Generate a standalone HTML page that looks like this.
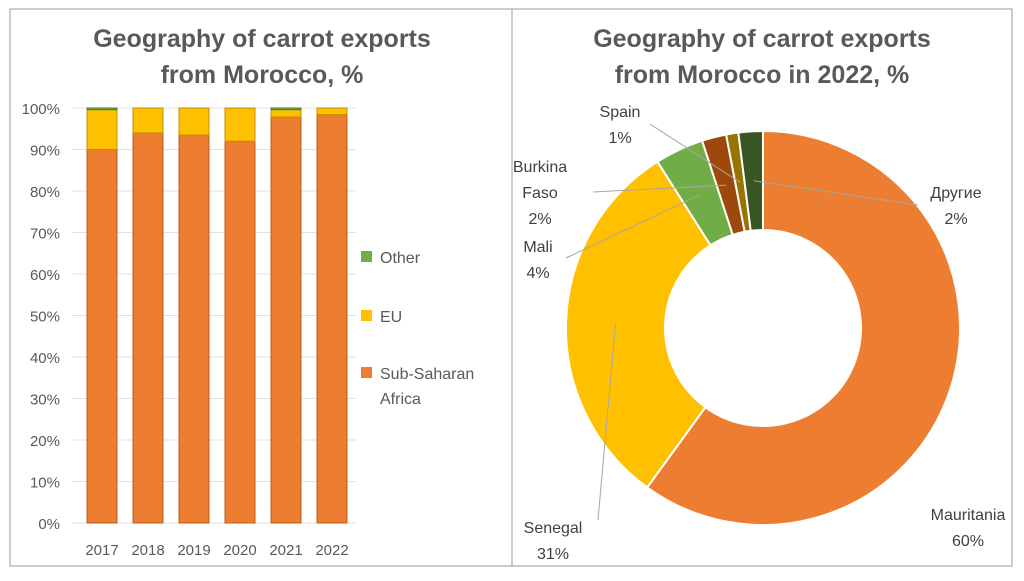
<!DOCTYPE html>
<html><head><meta charset="utf-8"><style>
body{margin:0;background:#fff;width:1024px;height:576px;overflow:hidden}
svg{font-family:"Liberation Sans","DejaVu Sans",sans-serif}
</style></head><body>
<svg id="s" width="1024" height="576">
<rect x="10" y="9" width="502" height="557" fill="#fff" stroke="#a89a8a"/>
<rect x="512" y="9" width="500" height="557" fill="#fff" stroke="#a89a8a"/>
<text x="262" y="47" text-anchor="middle" font-size="25" font-weight="bold" fill="#595959">Geography of carrot exports</text>
<text x="262" y="83" text-anchor="middle" font-size="25" font-weight="bold" fill="#595959">from Morocco, %</text>
<text x="762" y="47" text-anchor="middle" font-size="25" font-weight="bold" fill="#595959">Geography of carrot exports</text>
<text x="762" y="83" text-anchor="middle" font-size="25" font-weight="bold" fill="#595959">from Morocco in 2022, %</text>
<g id="bars"></g><g id="donut"></g>
</svg>
<script>
const years=["2017","2018","2019","2020","2021","2022"];
const ssa=[90,94,93.5,92,97.8,98.4];
const eu=[9.6,6,6.5,8,1.8,1.6];
const other=[0.4,0,0,0,0.4,0];
const yTicks=["0%","10%","20%","30%","40%","50%","60%","70%","80%","90%","100%"];
const sliceNames=["Mauritania","Senegal","Mali","Burkina Faso","Spain","Другие"];
const sliceValues=[60,31,4,2,1,2];
const NS="http://www.w3.org/2000/svg";
function mk(p,t,a){const e=document.createElementNS(NS,t);for(const k in a)e.setAttribute(k,a[k]);p.appendChild(e);return e;}
const B=document.getElementById('bars');
const y0=523,y1=108;const yS=v=>y0-(y0-y1)*v/100;
const xS=i=>102+46*i;
yTicks.forEach((t,i)=>{const v=i*10;
 const l=mk(B,'line',{x1:72,x2:356,y1:yS(v),y2:yS(v),stroke:'#e0e0e0'});
 
 const tx=mk(B,'text',{x:60,y:yS(v)+6,'text-anchor':'end','font-size':15,fill:'#595959'});tx.textContent=t;
 });
const cols=['#ed7d31','#ffc000','#70ad47'];const strokes=['#b8601f','#c09000','#4d7a30'];
years.forEach((yr,i)=>{let base=0;[ssa[i],eu[i],other[i]].forEach((v,j)=>{if(v<=0)return;
 const r=mk(B,'rect',{x:xS(i)-15,width:30,y:yS(base+v),height:yS(base)-yS(base+v),fill:cols[j],stroke:strokes[j],'stroke-width':1});
 base+=v;});
 const tx=mk(B,'text',{x:xS(i),y:555,'text-anchor':'middle','font-size':15,fill:'#595959'});tx.textContent=yr;
 });
[['Other',257,2],['EU',316,1],['Sub-Saharan',373,0]].forEach(([n,y,c])=>{
 const r=mk(B,'rect',{x:361,y:y-6,width:11,height:11,fill:cols[c]});
 const t=mk(B,'text',{x:380,y:y+6,'font-size':16,fill:'#595959'});t.textContent=n;});
const t2=mk(B,'text',{x:380,y:404,'font-size':16,fill:'#595959'});t2.textContent='Africa';
const D=document.getElementById('donut');const cx=763,cy=328,R=197,r0=98;
const sc=['#ed7d31','#ffc000','#70ad47','#9e480e','#997300','#375623'];
const tot=sliceValues.reduce((a,b)=>a+b,0);let acc=0;
const pt=(a,rr)=>[cx+rr*Math.sin(a),cy-rr*Math.cos(a)];
const mids=[];
sliceValues.forEach((v,i)=>{const a0=acc/tot*2*Math.PI;acc+=v;const a1=acc/tot*2*Math.PI;const lg=(a1-a0)>Math.PI?1:0;
 const [x0,yy0]=pt(a0,R),[x1,yy1]=pt(a1,R),[x2,y2]=pt(a1,r0),[x3,y3]=pt(a0,r0);
 const p=mk(D,'path',{d:`M${x0},${yy0}A${R},${R} 0 ${lg} 1 ${x1},${yy1}L${x2},${y2}A${r0},${r0} 0 ${lg} 0 ${x3},${y3}Z`,fill:sc[i],stroke:'#fff','stroke-width':2});
 
 mids.push((a0+a1)/2);});
const labs=[[944,514,'end',null],[553,527,'middle',[598,520]],[538,246,'middle',[566,258]],[540,166,'middle',[593,192]],[620,111,'middle',[650,124]],[956,192,'end',[918,205]]];
labs.forEach((L,i)=>{const [x,y]=L;const nm=sliceNames[i];
 if(L[3]){const [px,py]=pt(mids[i],(R+r0)/2);const l=mk(D,'polyline',{points:`${L[3][0]},${L[3][1]} ${px},${py}`,fill:'none',stroke:'#a6a6a6'});
  }
 const lines=nm==='Burkina Faso'?['Burkina','Faso']:[nm];lines.push(sliceValues[i]+'%');
 const lx=i===0?968:i===5?956:x;
 lines.forEach((s,k)=>{const t=mk(D,'text',{x:lx,y:y+k*26+6,'text-anchor':'middle','font-size':16,fill:'#404040'});t.textContent=s;
  });});
</script>
</body></html>
